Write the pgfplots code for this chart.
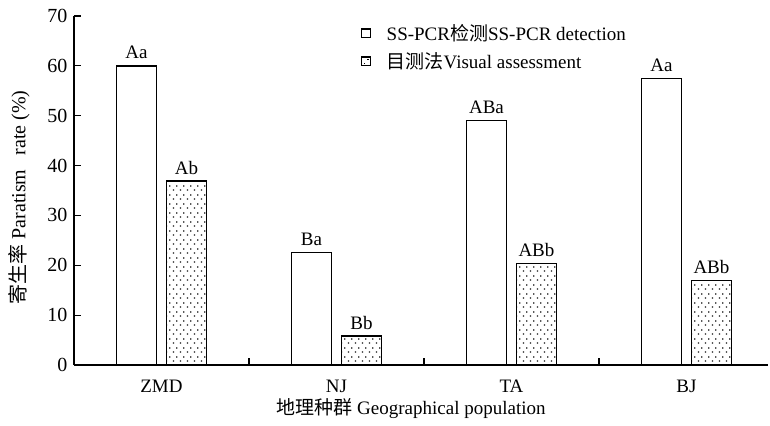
\documentclass[border=0pt]{standalone}
\usepackage{pgfplots}
\pgfplotsset{compat=1.18}
\usetikzlibrary{patterns}
\usepackage{fontspec}
\setmainfont{Liberation Serif}
\newfontfamily\cjk{Noto Sans CJK SC}
\newcommand{\fs}{\fontsize{19bp}{22bp}\selectfont}
\newcommand{\fst}{\fontsize{20bp}{22bp}\selectfont}
\pgfdeclarepatternformonly{sparsedots}{\pgfpointorigin}{\pgfqpoint{6.6bp}{9bp}}{\pgfqpoint{6.6bp}{9bp}}{%
  \pgfpathrectangle{\pgfqpoint{1bp}{1.5bp}}{\pgfqpoint{1.3bp}{1.3bp}}\pgfusepath{fill}%
  \pgfpathrectangle{\pgfqpoint{4.3bp}{6bp}}{\pgfqpoint{1.3bp}{1.3bp}}\pgfusepath{fill}}
\begin{document}
\begin{tikzpicture}
\begin{axis}[
  scale only axis,
  width=694bp, height=349bp,
  xmin=-0.5, xmax=3.466,
  ymin=0, ymax=70,
  ybar=10bp, bar width=40bp,
  ytick={0,10,...,70},
  xtick={0.5,1.5,2.5},
  xticklabels={},
  extra x ticks={0,1,2,3},
  extra x tick labels={ZMD,NJ,TA,BJ},
  extra x tick style={tick style={draw=none}},
  axis x line=bottom, axis y line=left,
  axis line style={-, line width=1.3bp},
  tick style={line width=1.1bp, black},
  tick align=inside,
  major tick length=7bp,
  /pgf/number format/assume math mode=true,
  tick label style={font=\fst},
  xticklabel style={anchor=base, yshift=-27bp, font=\fs},
  yticklabel style={anchor=east, xshift=-3bp},
  xlabel={{\cjk 地理种群} Geographical population},
  ylabel={{\cjk 寄生率} Paratism\hspace{0.7em}rate (\%)},
  label style={font=\fs},
  xlabel style={at={(axis description cs:0.4856,-0.126)}, anchor=center},
  ylabel style={at={(axis description cs:-0.0793,0.48)}, anchor=center, font=\fontsize{20bp}{22bp}\selectfont},
  legend style={draw=none, fill=none, font=\fs, at={(axis description cs:0.412,0.985)}, anchor=north west, row sep=6.5bp, inner sep=1bp,
    /tikz/every odd column/.append style={column sep=14bp}},
  legend cell align=left,
  legend image code/.code={\draw[#1, line width=1.2bp] (0bp,-4.2bp) rectangle (8.4bp,4.2bp);},
  nodes near coords,
  point meta=explicit symbolic,
  nodes near coords style={font=\fs, anchor=base, yshift=7bp},
]
\addplot[draw=black, fill=white, line width=1.3bp]
  coordinates {(0,60) [Aa] (1,22.6) [Ba] (2,49.1) [ABa] (3,57.4) [Aa]};
\addplot[draw=black, pattern=sparsedots, line width=1.3bp]
  coordinates {(0,36.9) [Ab] (1,5.8) [Bb] (2,20.3) [ABb] (3,17.0) [ABb]};
\legend{SS-PCR{\cjk 检测}SS-PCR detection, {\cjk 目测法}Visual assessment}
\coordinate (O) at (rel axis cs:0,0);
\end{axis}
\pgfresetboundingbox
\path[use as bounding box] ([shift={(-74bp,-61bp)}]O) rectangle ([shift={(696bp,365bp)}]O);
\end{tikzpicture}
\end{document}
